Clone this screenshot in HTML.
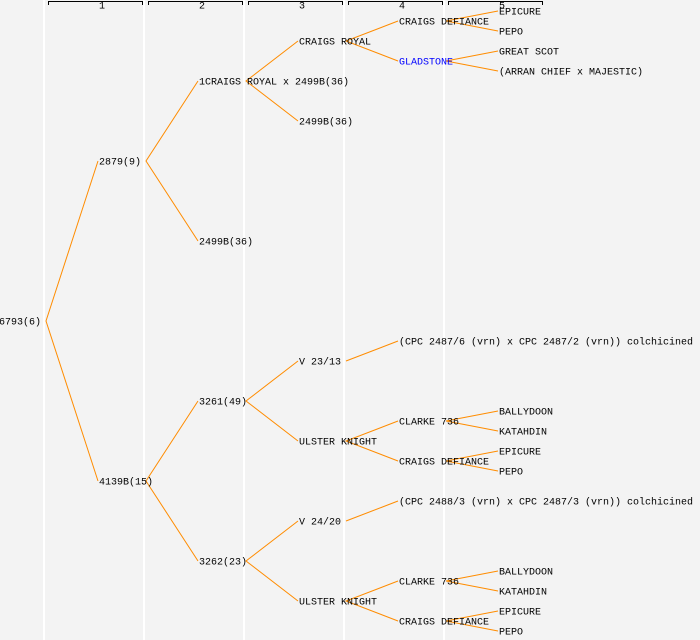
<!DOCTYPE html>
<html><head><style>
html,body{margin:0;padding:0;background:#f3f3f3;}
svg{display:block}
text{font-family:"Liberation Mono",monospace;font-size:10px;fill:#000;dominant-baseline:central}
.t text{transform:translateY(2px)}
</style></head><body>
<svg width="700" height="640" xmlns="http://www.w3.org/2000/svg">
<rect width="700" height="640" fill="#f3f3f3"/>
<g stroke="#fff" stroke-width="2">
<line x1="44" y1="0" x2="44" y2="640"/><line x1="144" y1="0" x2="144" y2="640"/>
<line x1="244" y1="0" x2="244" y2="640"/><line x1="344" y1="0" x2="344" y2="640"/>
<line x1="444" y1="0" x2="444" y2="640"/>
</g>
<g stroke="#000" stroke-width="1" fill="none">
<path d="M48.5 5V1.5H142.5V5"/><path d="M148.5 5V1.5H242.5V5"/><path d="M248.5 5V1.5H342.5V5"/>
<path d="M348.5 5V1.5H442.5V5"/><path d="M448.5 5V1.5H542.5V5"/>
</g>
<g style="font-size:8px"><text x="102" y="7" text-anchor="middle">1</text><text x="202" y="7" text-anchor="middle">2</text><text x="302" y="7" text-anchor="middle">3</text><text x="402" y="7" text-anchor="middle">4</text><text x="502" y="7" text-anchor="middle">5</text></g>
<g stroke="#ff8c00" stroke-width="1" fill="none">
<path d="M98 161L46 321L98 481"/>
<path d="M198 81L146 161L198 241"/>
<path d="M198 401L146 481L198 561"/>
<path d="M298 41L246 81L298 121"/>
<path d="M298 361L246 401L298 441"/>
<path d="M298 521L246 561L298 601"/>
<path d="M398 21L346 41L398 61"/>
<path d="M498 11L446 21L498 31"/>
<path d="M498 51L446 61L498 71"/>
<path d="M398 341L346 361"/>
<path d="M398 421L346 441L398 461"/>
<path d="M498 411L446 421L498 431"/>
<path d="M498 451L446 461L498 471"/>
<path d="M398 501L346 521"/>
<path d="M398 581L346 601L398 621"/>
<path d="M498 571L446 581L498 591"/>
<path d="M498 611L446 621L498 631"/>
</g>
<g class="t">
<text x="-1" y="321">6793(6)</text>
<text x="99" y="161">2879(9)</text>
<text x="99" y="481">4139B(15)</text>
<text x="199" y="81">1CRAIGS ROYAL x 2499B(36)</text>
<text x="199" y="241">2499B(36)</text>
<text x="199" y="401">3261(49)</text>
<text x="199" y="561">3262(23)</text>
<text x="299" y="41">CRAIGS ROYAL</text>
<text x="299" y="121">2499B(36)</text>
<text x="299" y="361">V 23/13</text>
<text x="299" y="441">ULSTER KNIGHT</text>
<text x="299" y="521">V 24/20</text>
<text x="299" y="601">ULSTER KNIGHT</text>
<text x="399" y="21">CRAIGS DEFIANCE</text>
<text x="399" y="61" style="fill:#0000ff">GLADSTONE</text>
<text x="399" y="341">(CPC 2487/6 (vrn) x CPC 2487/2 (vrn)) colchicined</text>
<text x="399" y="421">CLARKE 736</text>
<text x="399" y="461">CRAIGS DEFIANCE</text>
<text x="399" y="501">(CPC 2488/3 (vrn) x CPC 2487/3 (vrn)) colchicined</text>
<text x="399" y="581">CLARKE 736</text>
<text x="399" y="621">CRAIGS DEFIANCE</text>
<text x="499" y="11">EPICURE</text>
<text x="499" y="31">PEPO</text>
<text x="499" y="51">GREAT SCOT</text>
<text x="499" y="71">(ARRAN CHIEF x MAJESTIC)</text>
<text x="499" y="411">BALLYDOON</text>
<text x="499" y="431">KATAHDIN</text>
<text x="499" y="451">EPICURE</text>
<text x="499" y="471">PEPO</text>
<text x="499" y="571">BALLYDOON</text>
<text x="499" y="591">KATAHDIN</text>
<text x="499" y="611">EPICURE</text>
<text x="499" y="631">PEPO</text>
</g>
</svg>
</body></html>
